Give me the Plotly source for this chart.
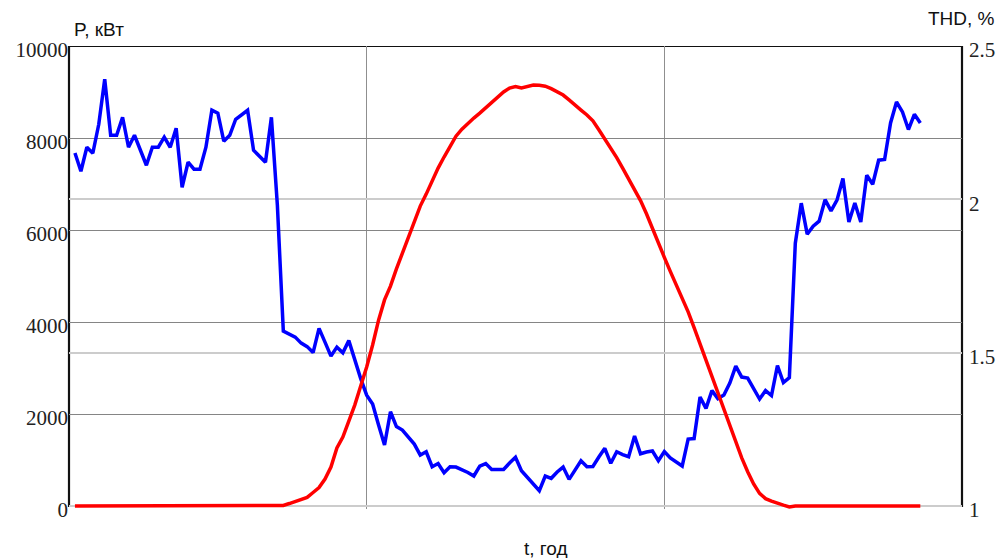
import plotly.graph_objects as go

# Time of day, hours: 10-minute readings from 00:10 to 23:50
t_hours = [(k + 1) / 6 for k in range(143)]

# Active power P, kW
power_kw = [
    7675, 7278, 7799, 7669, 8299, 9277, 8060, 8060, 8451, 7799,
    8060, 7734, 7408, 7799, 7799, 8017, 7799, 8212, 6930, 7473,
    7321, 7321, 7799, 8603, 8538, 7930, 8060, 8408, 8516, 8603,
    7734, 7604, 7473, 8451, 6539, 3802, 3737, 3672, 3541, 3465,
    3335, 3861, 3563, 3259, 3454, 3330, 3595, 3172, 2770, 2411,
    2216, 1760, 1325, 2049, 1727, 1651, 1499, 1347, 1108, 1180,
    854, 923, 723, 854, 847, 793, 728, 652, 869, 923,
    793, 793, 793, 934, 1058, 767, 630, 478, 332, 652,
    602, 739, 847, 580, 793, 984, 854, 858, 1065, 1254,
    928, 1180, 1119, 1071, 1521, 1136, 1173, 1195, 984, 1184,
    1043, 945, 869, 1456, 1466, 2368, 2123, 2509, 2335, 2411,
    2672, 3042, 2803, 2781, 2564, 2325, 2509, 2401, 3052, 2683,
    2792, 5714, 6583, 5909, 6083, 6192, 6659, 6415, 6648, 7119,
    6176, 6589, 6176, 7191, 6995, 7517, 7532, 8327, 8783, 8566,
    8184, 8516, 8327,
]

# Total harmonic distortion THD, %
thd_pct = (
    [1.0] * 35
    + [
        1.002, 1.008, 1.014, 1.021, 1.028, 1.044, 1.060, 1.088, 1.127, 1.189,
        1.225, 1.277, 1.329, 1.391, 1.453, 1.525, 1.606, 1.672, 1.717, 1.773,
        1.825, 1.874, 1.933, 1.978, 2.017, 2.060, 2.102, 2.138, 2.174, 2.206,
        2.229, 2.249, 2.265, 2.281, 2.298, 2.317, 2.334, 2.350, 2.363, 2.368,
        2.363, 2.368, 2.373, 2.372, 2.369, 2.361, 2.352, 2.340, 2.324, 2.306,
        2.291, 2.275, 2.256, 2.227, 2.198, 2.167, 2.136, 2.102, 2.068, 2.033,
        1.996, 1.953, 1.908, 1.859, 1.811, 1.765, 1.720, 1.681, 1.633, 1.582,
        1.529, 1.476, 1.422, 1.367, 1.313, 1.261, 1.209, 1.157, 1.112, 1.072,
        1.041, 1.024, 1.016, 1.008, 1.003, 0.997,
    ]
    + [1.0] * 22
)

p_ticks = [0, 2000, 4000, 6000, 8000, 10000]
thd_ticks = [1, 1.5, 2, 2.5]
t_range = [0, 25]

# Ranges are padded 3 px at the bottom so the flat THD=1 line is not clipped
pad_p = 65
pad_thd = 0.0098

tick_font = dict(family="Liberation Serif", size=21, color="#222222")
title_font = dict(family="Liberation Sans", size=19, color="#111111")

fig = go.Figure()
fig.add_trace(go.Scatter(
    x=t_hours, y=power_kw, mode="lines", yaxis="y",
    line=dict(color="#0000ff", width=3.5), showlegend=False,
))
fig.add_trace(go.Scatter(
    x=t_hours, y=thd_pct, mode="lines", yaxis="y2",
    line=dict(color="#ff0000", width=3.5), showlegend=False,
))

fig.update_layout(
    width=1007, height=558,
    margin=dict(l=69, r=42, t=46, b=49),
    paper_bgcolor="white", plot_bgcolor="white",
    xaxis=dict(
        range=t_range, tickvals=[t_range[1] / 3, 2 * t_range[1] / 3],
        showticklabels=False, ticks="", showgrid=True,
        gridcolor="#8f8f8f", gridwidth=1.3, zeroline=False, showline=False,
    ),
    yaxis=dict(
        range=[-pad_p, 10000], tickvals=p_ticks, ticktext=[str(v) for v in p_ticks],
        ticks="", showgrid=True, gridcolor="#858585", gridwidth=1.3,
        zeroline=False, showline=False, tickfont=tick_font, ticklabelshift=4,
    ),
    yaxis2=dict(
        range=[1 - pad_thd, 2.5], overlaying="y", side="right",
        tickvals=thd_ticks, ticktext=["1", "1.5", "2", "2.5"],
        ticks="", showgrid=True, gridcolor="#cccccc", gridwidth=1.6,
        zeroline=False, showline=False, tickfont=tick_font, ticklabelshift=4,
        ticklabelstandoff=6,
    ),
    shapes=[
        dict(type="rect", xref="paper", yref="y", x0=0, x1=1, y0=0, y1=10000,
             line=dict(color="#111111", width=2.2), layer="below"),
    ],
    annotations=[
        dict(text="P, кВт", xref="paper", yref="paper", x=0.0033, y=1.035,
             xanchor="left", yanchor="middle", showarrow=False, font=title_font),
        dict(text="THD, %", xref="paper", yref="paper", x=1.039, y=1.059,
             xanchor="right", yanchor="middle", showarrow=False, font=title_font),
        dict(text="t, год", xref="paper", yref="paper", x=0.5346, y=-0.0848,
             xanchor="center", yanchor="middle", showarrow=False, font=title_font),
    ],
)

fig.write_html("out.html")
